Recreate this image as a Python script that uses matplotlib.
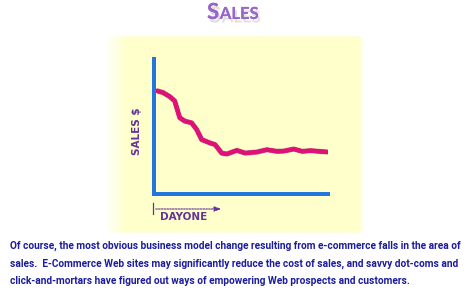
import numpy as np
import matplotlib
matplotlib.use("Agg")
import matplotlib.pyplot as plt
import matplotlib.patheffects as pe
import matplotlib.transforms as mtransforms

# dados (dia, vendas) em unidades arbitrárias 0-100
dias = [1.9, 5.2, 9.1, 11.9, 14.8, 17.7, 21.6, 24.5, 27.4, 32.2, 35.1, 38.9,
        41.8, 47.6, 52.4, 59.2, 64.9, 70.7, 74.6, 80.3, 85.2, 90.0, 99.6]
vendas = [76.4, 75.1, 72.1, 68.9, 56.5, 54.0, 52.7, 47.8, 40.3, 37.8, 36.6, 30.3,
          29.6, 32.3, 30.3, 31.1, 32.8, 31.6, 31.8, 33.3, 31.6, 32.1, 31.1]

titulo = "SALES"
rotulo_y = "SALES $"
rotulo_x = "DAYONE"
texto = [
    "Of course, the most obvious business model change resulting from e-commerce falls in the area of",
    "sales.  E-Commerce Web sites may significantly reduce the cost of sales, and savvy dot-coms and",
    "click-and-mortars have figured out ways of empowering Web prospects and customers.",
]

W, H = 470, 302
fig = plt.figure(figsize=(W / 100, H / 100), dpi=100)
fig.patch.set_facecolor("white")

# eixo de fundo em pixels
bg = fig.add_axes([0, 0, 1, 1])
bg.set_xlim(0, W)
bg.set_ylim(H, 0)
bg.axis("off")

# painel amarelo com bordas suaves
px = np.arange(W)
py = np.arange(H)
ax_fade = np.clip((px - 104) / 22, 0, 1) * np.clip((364 - px) / 6, 0, 1)
ay_fade = np.clip((py - 34) / 3, 0, 1) * np.clip((234 - py) / 3, 0, 1)
alpha = np.outer(ay_fade, ax_fade)
img = np.zeros((H, W, 4))
img[..., 0] = 1.0
img[..., 1] = 1.0
img[..., 2] = 0.80
img[..., 3] = alpha
bg.imshow(img, extent=(0, W, H, 0), zorder=0, interpolation="bilinear")

# titulo em versalete
sombra = [pe.withSimplePatchShadow(offset=(1.5, -2.5), shadow_rgbFace="#bbbbbb", alpha=0.45),
          pe.Normal()]
t1 = bg.text(207, 19, titulo[0], fontsize=16, fontweight="bold", color="#9966CC",
             family="Lato", ha="left", va="baseline", path_effects=sombra)
fig.canvas.draw()
x2 = t1.get_window_extent().x1
trans = mtransforms.blended_transform_factory(mtransforms.IdentityTransform(), bg.transData)
bg.text(x2 + 0.5, 19, titulo[1:], fontsize=12, fontweight="bold", color="#9966CC",
        family="Lato", ha="left", va="baseline", path_effects=sombra, transform=trans)

# texto de baixo, tamanho ajustado para a largura da linha
tam = 8.6
linhas = []
for i, linha in enumerate(texto):
    linhas.append(bg.text(10, 246 + i * 17.5, linha, fontsize=tam, fontweight="bold",
                          color="#1C1C9E", family="Roboto", ha="left", va="center"))
fig.canvas.draw()
largura = linhas[0].get_window_extent().width
for t in linhas:
    t.set_fontsize(tam * 445 / largura)

# rotulos dos eixos
bg.text(137, 131, rotulo_y, rotation=90, fontsize=7.5, fontweight="bold", color="#663399",
        family="DejaVu Sans", ha="center", va="center")
bg.text(184, 217, rotulo_x, fontsize=7.5, fontweight="bold", color="#663399",
        family="DejaVu Sans", ha="center", va="center")
bg.plot([153, 153], [203, 214], color="#663399", lw=0.9)
bg.annotate("", xy=(224, 209), xytext=(153, 209),
            arrowprops=dict(arrowstyle="-|>,head_length=0.4,head_width=0.15",
                            color="#663399", lw=0.8, ls=(0, (1.5, 1))))

# grafico
ax = fig.add_axes([154 / W, (H - 194) / H, (328 - 154) / W, (194 - 59) / H])
ax.patch.set_alpha(0)
ax.set_xlim(0, 100)
ax.set_ylim(0, 100)
ax.set_xticks([])
ax.set_yticks([])
for s in ["top", "right"]:
    ax.spines[s].set_visible(False)
for s in ["left", "bottom"]:
    ax.spines[s].set_color("#2277DD")
    ax.spines[s].set_linewidth(2.8)
    ax.spines[s].set_path_effects([pe.withSimplePatchShadow(offset=(1.5, -1.5),
                                                            shadow_rgbFace="#7a7a55", alpha=0.5),
                                   pe.Normal()])
ax.plot(dias, vendas, color="#DD1177", lw=3.0, solid_joinstyle="round",
        solid_capstyle="round",
        path_effects=[pe.withStroke(linewidth=3.8, foreground="#aa2266", alpha=0.5), pe.Normal()])

fig.savefig("out.png", dpi=100)
